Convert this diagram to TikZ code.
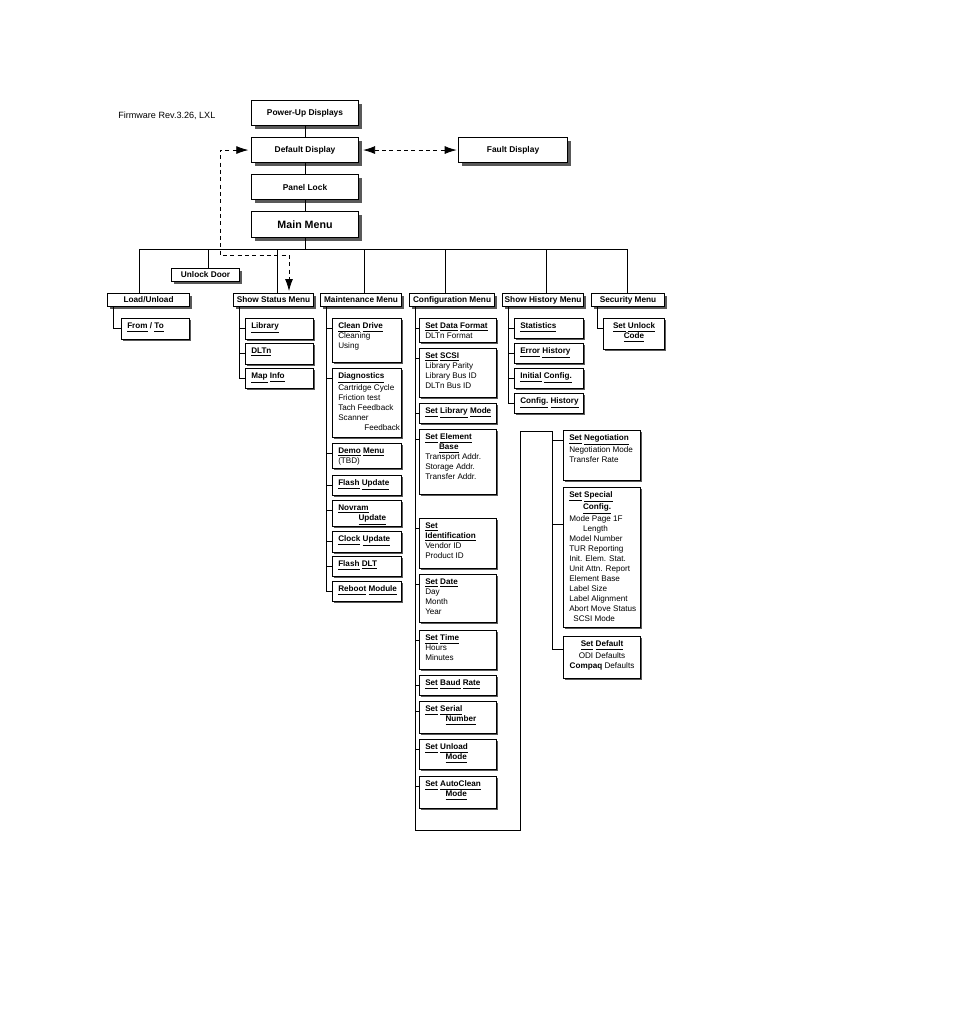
\documentclass[tikz,border=0pt]{standalone}
\usepackage{fontspec}
\setmainfont{Liberation Sans}
\usetikzlibrary{arrows.meta}
\newcommand\un[1]{\underline{#1}}
\tikzset{
  shad/.style={preaction={fill=black!65,transform canvas={shift={(#1,-#1)}}}},
  topbox/.style={draw,line width=0.8pt,fill=white,shad=2.5pt,font=\fontsize{6.3}{7.5}\selectfont\bfseries,anchor=north west,inner sep=0pt},
  hdr/.style={draw,line width=0.8pt,fill=white,shad=2pt,font=\fontsize{6.2}{7.5}\selectfont\bfseries,anchor=north west,inner sep=0pt},
  sbox/.style={draw,line width=0.8pt,fill=white,shad=1pt,anchor=north west,inner sep=0pt},
  txt/.style={font=\fontsize{6.1}{7.5}\selectfont,align=left,anchor=north west,inner sep=0pt},
  ln/.style={line width=0.6pt},
  dsh/.style={line width=0.6pt,dash pattern=on 3pt off 2.5pt,{Latex[length=9pt,width=6pt]}-{Latex[length=9pt,width=6pt]}},
}
\newcommand\bx[6]{\node[sbox,minimum width={(#4-#2)*0.75pt},minimum height={(#5-#3)*0.75pt}] (#1) at (#2,#3) {};
  \node[txt] (#1t) at ([xshift=4.5pt,yshift=-3.5pt]#1.north west) {#6};}
\newcommand\tb[6]{\node[topbox,minimum width={(#4-#2)*0.75pt},minimum height={(#5-#3)*0.75pt}] (#1) at (#2,#3) {#6};}
\newcommand\hb[6]{\node[hdr,minimum width={(#4-#2)*0.75pt},minimum height={(#5-#3)*0.75pt}] (#1) at (#2,#3) {#6};}
\begin{document}
\begin{tikzpicture}[x=0.75pt,y=-0.75pt]
\useasboundingbox (0,0) rectangle (954,1011);
\node[anchor=west,font=\fontsize{6.8}{8}\selectfont,inner sep=0pt] (fw) at (118,116) {Firmware Rev.3.26, LXL};
\tb{pu}{251}{100}{358}{125}{Power-Up Displays}
\tb{dd}{251}{137}{358}{162}{Default Display}
\tb{pl}{251}{174}{358}{199}{Panel Lock}
\node[topbox,font=\fontsize{8}{9}\selectfont\bfseries,minimum width={107*0.75pt},minimum height={26*0.75pt}] (mm) at (251,211) {Main Menu};
\tb{fd}{458}{137}{567}{162}{Fault Display}
\draw[ln] (pu) -- (dd); \draw[ln] (dd) -- (pl); \draw[ln] (pl) -- (mm);
\coordinate (bl) at (139,249); \coordinate (br) at (627,249);
\draw[ln] (mm.south) -- (mm.south |- bl);
\draw[ln] (bl) -- (br);
% headers
\hb{ud}{171}{268}{239}{281}{Unlock Door}
\hb{lu}{107}{293}{189}{306}{Load/Unload}
\hb{ss}{233}{293}{313}{306}{Show Status Menu}
\hb{mt}{320}{293}{401}{306}{Maintenance Menu}
\hb{cf}{409}{293}{494}{306}{Configuration Menu}
\hb{sh}{502}{293}{583}{306}{Show History Menu}
\hb{sc}{591}{293}{664}{306}{Security Menu}
\foreach \n/\x in {lu/139,ud/208,ss/277,mt/364,cf/445,sh/546,sc/627}
  \draw[ln] (\x,249) -- (\x,249 |- \n.north);
% dashed
\coordinate (d1) at (220,255); \coordinate (d2) at (289,255);
\draw[dsh] ([xshift=-2pt]dd.west) -| (d1) -- (d2) -- ([yshift=1.5pt]d2 |- ss.north);
\draw[dsh] ([xshift=3pt]dd.east) -- ([xshift=-1pt]fd.west);
% Load/Unload
\bx{ft}{121}{318}{189}{339}{\bfseries\un{From} / \un{To}}
% Show status
\bx{lib}{245}{318}{313}{339}{\bfseries\un{Library}}
\bx{dl}{245}{343}{313}{364}{\bfseries\un{DLTn}}
\bx{mi}{245}{368}{313}{388}{\bfseries\un{Map} \un{Info}}
% Maintenance
\bx{cd}{332}{318}{401}{362}{\textbf{\un{Clean} \un{Drive}}\\Cleaning\\Using}
\bx{dg}{332}{368}{401}{437}{\textbf{\un{Diagnostics}}\\Cartridge Cycle\\Friction test\\Tach Feedback\\Scanner\\\hspace*{3.2em}Feedback}
\bx{dm}{332}{443}{401}{468}{\textbf{\un{Demo} \un{Menu}}\\(TBD)}
\bx{fu}{332}{475}{401}{495}{\bfseries\un{Flash} \un{Update}}
\bx{nu}{332}{500}{401}{526}{\textbf{\un{Novram}}\\\hspace*{2.5em}\textbf{\un{Update}}}
\bx{cu}{332}{531}{401}{552}{\bfseries\un{Clock} \un{Update}}
\bx{fl}{332}{556}{401}{576}{\bfseries\un{Flash} \un{DLT}}
\bx{rb}{332}{581}{401}{601}{\bfseries\un{Reboot} \un{Module}}
% Configuration
\bx{sdf}{419}{318}{496}{342}{\textbf{\un{Set} \un{Data} \un{Format}}\\DLTn Format}
\bx{ssc}{419}{348}{496}{397}{\textbf{\un{Set} \un{SCSI}}\\Library Parity\\Library Bus ID\\DLTn Bus ID}
\bx{slm}{419}{403}{496}{423}{\bfseries\un{Set} \un{Library} \un{Mode}}
\bx{seb}{419}{429}{496}{494}{\textbf{\un{Set} \un{Element}}\\\hspace*{1.7em}\textbf{\un{Base}}\\Transport Addr.\\Storage Addr.\\Transfer Addr.}
\bx{sid}{419}{518}{496}{568}{\textbf{\un{Set}}\\\textbf{\un{Identification}}\\Vendor ID\\Product ID}
\bx{sda}{419}{574}{496}{622}{\textbf{\un{Set} \un{Date}}\\Day\\Month\\Year}
\bx{sti}{419}{630}{496}{669}{\textbf{\un{Set} \un{Time}}\\Hours\\Minutes}
\bx{sbr}{419}{675}{496}{695}{\bfseries\un{Set} \un{Baud} \un{Rate}}
\bx{ssn}{419}{701}{496}{733}{\textbf{\un{Set} \un{Serial}}\\\hspace*{2.5em}\textbf{\un{Number}}}
\bx{sum}{419}{739}{496}{769}{\textbf{\un{Set} \un{Unload}}\\\hspace*{2.5em}\textbf{\un{Mode}}}
\bx{sac}{419}{776}{496}{808}{\textbf{\un{Set} \un{AutoClean}}\\\hspace*{2.5em}\textbf{\un{Mode}}}
% History
\bx{st}{514}{318}{583}{338}{\bfseries\un{Statistics}}
\bx{eh}{514}{343}{583}{363}{\bfseries\un{Error} \un{History}}
\bx{ic}{514}{368}{583}{388}{\bfseries\un{Initial} \un{Config.}}
\bx{ch}{514}{393}{583}{413}{\bfseries\un{Config.} \un{History}}
% Security
\node[sbox,minimum width={61*0.75pt},minimum height={31*0.75pt}] (uc) at (603,318) {};
\node[txt,align=center,anchor=north,font=\fontsize{6.1}{7.5}\selectfont\bfseries] (uct) at ([yshift=-3.5pt]uc.north) {\un{Set} \un{Unlock}\\\un{Code}};
% second column
\bx{ng}{563}{430}{640}{480}{\textbf{\un{Set} \un{Negotiation}}\\Negotiation Mode\\Transfer Rate}
\bx{sp}{563}{487}{640}{627}{\textbf{\un{Set} \un{Special}}\\\hspace*{1.7em}\textbf{\un{Config.}}\\Mode Page 1F\\\hspace*{1.7em}Length\\Model Number\\TUR Reporting\\Init. Elem. Stat.\\Unit Attn. Report\\Element Base\\Label Size\\Label Alignment\\Abort Move Status\\\hspace*{0.5em}SCSI Mode}
\node[sbox,minimum width={77*0.75pt},minimum height={42*0.75pt}] (sd) at (563,636) {};
\node[txt,align=center,anchor=north] (sdt) at ([yshift=-3.5pt]sd.north) {\textbf{\un{Set} \un{Default}}\\[1.5pt]ODI Defaults\\\textbf{Compaq} Defaults};
% trunks
\foreach \h/\c in {lu/ft, ss/lib, ss/dl, ss/mi, mt/cd, mt/dg, mt/dm, mt/fu, mt/nu, mt/cu, mt/fl, mt/rb,
  sh/st, sh/eh, sh/ic, sh/ch, sc/uc,
  cf/sdf, cf/ssc, cf/slm, cf/seb, cf/sid, cf/sda, cf/sti, cf/sbr, cf/ssn, cf/sum, cf/sac}
  \draw[ln] ([xshift=4.5pt]\h.south west) |- ([yshift=-7.5pt]\c.north west);
\coordinate (cft) at ([xshift=4.5pt]cf.south west);
\coordinate (c1) at (413,830); \coordinate (c2) at (520,830);
\coordinate (c3) at (520,431); \coordinate (c4) at (552,431);
\draw[ln] (cft) -- (cft |- c1) -- (c2) -- (c3) -- (c4);
\draw[ln] (c4) |- ([yshift=-7.5pt]ng.north west);
\draw[ln] (c4) |- ([yshift=-28pt]sp.north west);
\draw[ln] (c4) |- ([yshift=-10pt]sd.north west);
\end{tikzpicture}
\end{document}
